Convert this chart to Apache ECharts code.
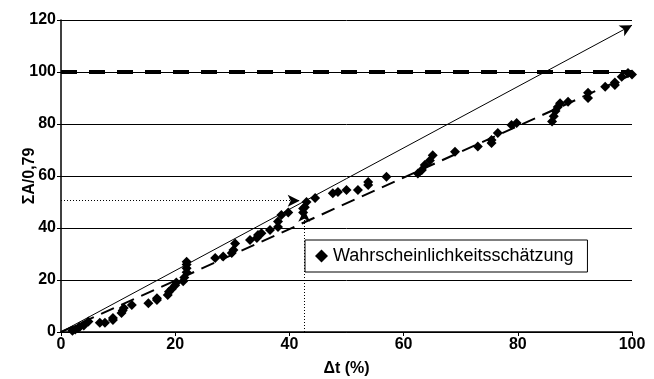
<!DOCTYPE html>
<html>
<head>
<meta charset="utf-8">
<script src="https://cdn.jsdelivr.net/npm/echarts@6/dist/echarts.min.js"></script>
<style>
  html, body { margin: 0; padding: 0; background: #fff; }
  #main { width: 654px; height: 379px; }
</style>
</head>
<body>
<div id="main"></div>
<script>
// Messpunkte (Δt %, ΣA/0,79)
var dtValues = [
  2, 2.5, 3, 3.3, 4, 4.8, 6.8, 7.7, 9.1, 9.1, 10.6, 10.8, 11, 12.4,
  15.3, 16.8, 16.8, 18.7, 18.9, 19.4, 20, 20.2, 21.4, 21.6, 22, 22, 22, 22,
  27, 28.4, 29.9, 30.2, 30.5, 33.1, 34.3, 34.5, 35.1, 36.6, 38, 38, 38.6, 39.8,
  42.4, 42.4, 42.7, 43, 44.5, 47.6, 48.5, 50, 52, 53.8, 53.8, 57,
  62.5, 63.2, 63.7, 64.6, 65.1, 69, 73, 75.4, 75.4, 76.5, 78.9, 79.8,
  86, 86.3, 86.6, 87, 87.4, 88.8, 92.3, 92.3, 95.3, 97, 97, 98.2, 99.3, 100
];
var sumValues = [
  0.5, 1, 1.5, 2, 2.5, 4, 3.6, 3.6, 4.6, 5.4, 7.3, 8.3, 9.2, 10.4,
  11.1, 12.3, 13, 14.2, 15.5, 16.5, 18, 19, 19.5, 21, 23, 24.5, 26, 27,
  28.5, 29, 30.4, 31.5, 34, 35.4, 36.2, 37.3, 38, 39.2, 40.4, 42.5, 45, 46,
  46, 47.5, 48, 50, 51.5, 53.4, 53.8, 54.6, 54.6, 56.5, 57.7, 59.7,
  61, 62.3, 64.2, 66, 68, 69.3, 71.3, 72.7, 73.8, 76.5, 79.6, 80.4,
  81, 83, 85, 86.5, 88, 88.6, 90, 92, 94.3, 95, 96, 98.2, 99.6, 99
];
var xTicks = [0, 20, 40, 60, 80, 100];
var yTicks = [0, 20, 40, 60, 80, 100, 120];

// Hilfslinien
var idealLine = [[0, 0], [100, 118]];
var trendLine = [[0, 0], [100, 99]];
var limitLine = [[0, 100], [100, 100]];
var readHLine = [[0, 50.5], [41.8, 50.5]];
var readVLine = [[42.6, 0], [42.6, 47]];

var points = dtValues.map(function (x, i) { return [x, sumValues[i]]; });

var chart = echarts.init(document.getElementById('main'), null, { renderer: 'canvas' });

var fontFamily = 'Liberation Sans, Arial, sans-serif';

function helperSeries(name, pts, style, endSymbol) {
  return {
    name: name,
    type: 'line',
    data: [],
    silent: true,
    z: 3,
    markLine: {
      silent: true,
      animation: false,
      symbol: ['none', endSymbol || 'none'],
      symbolSize: [9, 12],
      label: { show: false },
      emphasis: { disabled: true },
      lineStyle: style,
      data: [[{ coord: pts[0] }, { coord: pts[1] }]]
    }
  };
}

var option = {
  animation: false,
  backgroundColor: '#fff',
  grid: { left: 61, right: 22, top: 20, bottom: 47, containLabel: false, outerBoundsMode: 'none' },
  xAxis: {
    type: 'value',
    min: 0, max: 100, interval: 20,
    name: 'Δt (%)',
    nameLocation: 'middle',
    nameGap: 29,
    nameMoveOverlap: false,
    nameTextStyle: { fontFamily: fontFamily, fontWeight: 'bold', fontSize: 16, color: '#000' },
    axisLine: { lineStyle: { color: '#000', width: 1.5 } },
    axisTick: { show: true, length: 4, lineStyle: { color: '#000' } },
    axisLabel: {
      fontFamily: fontFamily, fontWeight: 'bold', fontSize: 16, color: '#000', margin: 5,
      formatter: function (v) { return xTicks.indexOf(v) >= 0 ? String(v) : ''; }
    },
    splitLine: { show: false }
  },
  yAxis: {
    type: 'value',
    min: 0, max: 120, interval: 20,
    name: 'ΣA/0,79',
    nameLocation: 'middle',
    nameGap: 23,
    nameMoveOverlap: false,
    nameTextStyle: { fontFamily: fontFamily, fontWeight: 'bold', fontSize: 16, color: '#000' },
    axisLine: { show: true, lineStyle: { color: '#000', width: 1.5 } },
    axisTick: { show: true, length: 4, lineStyle: { color: '#000' } },
    axisLabel: {
      fontFamily: fontFamily, fontWeight: 'bold', fontSize: 16, color: '#000', margin: 5,
      formatter: function (v) { return yTicks.indexOf(v) >= 0 ? String(v) : ''; }
    },
    splitLine: { show: true, lineStyle: { color: '#000', width: 1 } }
  },
  legend: {
    show: true,
    left: 305,
    top: 240,
    data: ['Wahrscheinlichkeitsschätzung'],
    backgroundColor: '#fff',
    borderColor: '#000',
    borderWidth: 1,
    borderRadius: 0,
    padding: [7, 14, 7, 10],
    itemWidth: 13,
    itemHeight: 13,
    itemGap: 4,
    icon: 'diamond',
    textStyle: { fontFamily: fontFamily, fontSize: 18, color: '#000' }
  },
  series: [
    helperSeries('ideal', idealLine, { color: '#000', width: 1, type: 'solid' }, 'arrow'),
    helperSeries('trend', trendLine, { color: '#000', width: 2, type: [14, 8] }),
    helperSeries('grenze', limitLine, { color: '#000', width: 4, type: [16, 12] }),
    helperSeries('ablesungX', readHLine, { color: '#000', width: 1, type: [1, 2] }, 'arrow'),
    helperSeries('ablesungY', readVLine, { color: '#000', width: 1, type: [1, 2] }, 'arrow'),
    {
      name: 'Wahrscheinlichkeitsschätzung',
      type: 'scatter',
      symbol: 'diamond',
      symbolSize: 10,
      itemStyle: { color: '#000', opacity: 1 },
      z: 5,
      data: points
    }
  ]
};

chart.setOption(option);
</script>
</body>
</html>
